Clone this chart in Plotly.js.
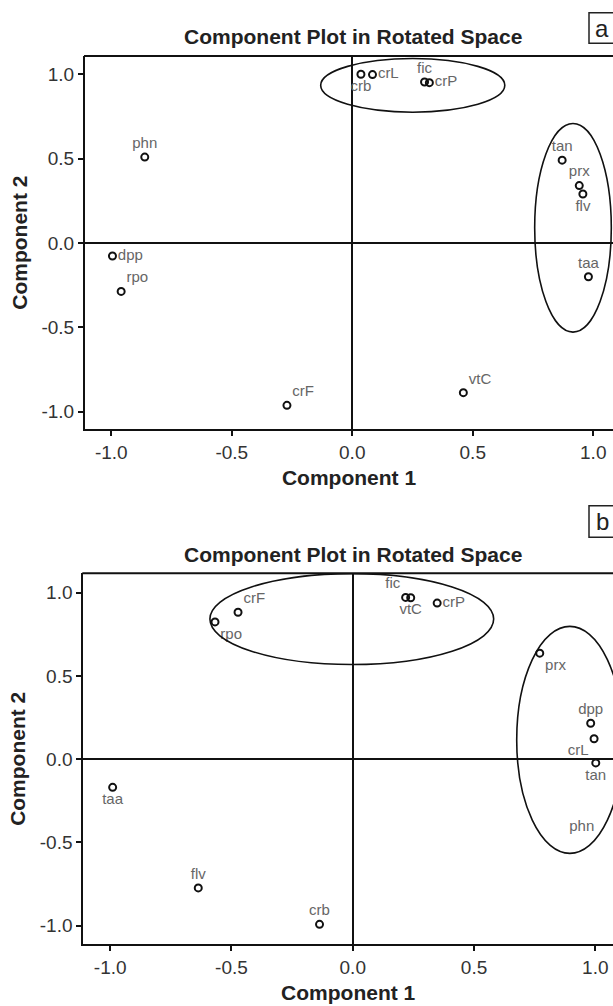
<!DOCTYPE html>
<html>
<head>
<meta charset="utf-8">
<script src="https://cdn.plot.ly/plotly-3.0.1.min.js"></script>
<style>
html,body{margin:0;padding:0;background:#fff;overflow:hidden;}
#chart{width:613px;height:1006px;}
</style>
</head>
<body>
<div id="chart"></div>
<script>
// ---------- data: panel a ----------
const labelsA = ["crb","crL","fic","crP","phn","tan","prx","flv","dpp","rpo","crF","vtC","taa"];
const comp1A  = [0.036,0.084,0.300,0.320,-0.861,0.871,0.942,0.957,-0.995,-0.959,-0.271,0.461,0.980];
const comp2A  = [1.000,0.998,0.954,0.950,0.509,0.491,0.340,0.290,-0.077,-0.287,-0.962,-0.887,-0.200];

// ---------- data: panel b ----------
const labelsB = ["rpo","crF","fic","vtC","crP","prx","dpp","crL","tan","taa","flv","crb"];
const comp1B  = [-0.568,-0.473,0.218,0.239,0.348,0.771,0.981,0.995,1.002,-0.990,-0.637,-0.137];
const comp2B  = [0.825,0.883,0.972,0.970,0.938,0.637,0.216,0.123,-0.022,-0.169,-0.773,-0.992];
// label shown without a visible marker in panel b
const textOnlyLabelsB = ["phn"];
const textOnlyComp1B  = [0.944];
const textOnlyComp2B  = [-0.41];

// ---------- grouping ellipses (centre x, centre y, half-width, half-height) ----------
const ellipseCxA = [0.251, 0.916];
const ellipseCyA = [0.934, 0.090];
const ellipseRxA = [0.382, 0.159];
const ellipseRyA = [0.159, 0.618];
const ellipseCxB = [-0.004, 0.895];
const ellipseCyB = [0.842, 0.116];
const ellipseRxB = [0.585, 0.219];
const ellipseRyB = [0.273, 0.682];

// ---------- ticks ----------
const tickVals = [-1.0,-0.5,0.0,0.5,1.0];
const tickText = ["-1.0","-0.5","0.0","0.5","1.0"];
const panelTitle = "Component Plot in Rotated Space";
const xTitle = "Component 1";
const yTitle = "Component 2";
const panelLetters = ["a","b"];

// ---------- styling (label placement) ----------
const posA = {crb:"bottom center",crL:"middle right",fic:"top center",crP:"middle right",phn:"top center",
  tan:"top center",prx:"top center",flv:"bottom center",dpp:"middle right",rpo:"top right",
  crF:"top right",vtC:"top right",taa:"top center"};
const posB = {rpo:"bottom right",crF:"top right",fic:"top left",vtC:"bottom center",crP:"middle right",
  prx:"bottom right",dpp:"top center",crL:"bottom left",tan:"bottom center",taa:"bottom center",
  flv:"top center",crb:"top center"};

const W = 613, H = 1006;
const pxX = v => v / W;
const pxY = v => 1 - v / H;

const markerStyle = {symbol:"circle-open", size:7, color:"#111", line:{width:2, color:"#111"}};
const labelFont = {family:"Liberation Sans, Arial, sans-serif", size:15, color:"#666"};

const traces = [
  {type:"scatter", mode:"markers+text", x:comp1A, y:comp2A, text:labelsA,
   textposition:labelsA.map(l=>posA[l]), textfont:labelFont, marker:markerStyle,
   xaxis:"x", yaxis:"y", hoverinfo:"text", showlegend:false},
  {type:"scatter", mode:"markers+text", x:comp1B, y:comp2B, text:labelsB,
   textposition:labelsB.map(l=>posB[l]), textfont:labelFont, marker:markerStyle,
   xaxis:"x2", yaxis:"y2", hoverinfo:"text", showlegend:false},
  {type:"scatter", mode:"text", x:textOnlyComp1B, y:textOnlyComp2B, text:textOnlyLabelsB,
   textfont:labelFont, xaxis:"x2", yaxis:"y2", hoverinfo:"text", showlegend:false}
];

const tickFont = {family:"Liberation Sans, Arial, sans-serif", size:19, color:"#333"};
const titleFont = {family:"Liberation Sans, Arial, sans-serif", size:21, color:"#222", weight:"bold"};

function axis(domain, range, anchor, titleText, standoff){
  return {
    domain:domain, range:range, anchor:anchor,
    tickmode:"array", tickvals:tickVals, ticktext:tickText,
    ticks:"outside", ticklen:5, tickwidth:2, tickcolor:"#111",
    showline:true, linecolor:"#111", linewidth:2, mirror:false,
    showgrid:false, zeroline:true, zerolinecolor:"#111", zerolinewidth:2,
    tickfont:tickFont, automargin:false,
    title:{text:titleText, font:titleFont, standoff:standoff}
  };
}

// plot-area geometry in pixels
const aL=85, aT=56, aB=429.3;
const bL=83.3, bT=573.3, bB=944.3;

const layout = {
  width:W, height:H, margin:{l:0,r:0,t:0,b:0}, paper_bgcolor:"#fff", plot_bgcolor:"#fff",
  font:{family:"Liberation Sans, Arial, sans-serif"},
  xaxis: axis([pxX(aL),1], [-1.109,1.082], "y", xTitle, 8),
  yaxis: axis([pxY(aB),pxY(aT)], [-1.104,1.108], "x", yTitle, 8),
  xaxis2: axis([pxX(bL),1], [-1.111,1.073], "y2", xTitle, 8),
  yaxis2: axis([pxY(bB),pxY(bT)], [-1.112,1.117], "x2", yTitle, 8),
  shapes:[], annotations:[]
};

function addEllipses(cx,cy,rx,ry,xr,yr){
  for(let i=0;i<cx.length;i++){
    layout.shapes.push({type:"circle", xref:xr, yref:yr,
      x0:cx[i]-rx[i], x1:cx[i]+rx[i], y0:cy[i]-ry[i], y1:cy[i]+ry[i],
      line:{color:"#111", width:1.6}, fillcolor:"rgba(0,0,0,0)"});
  }
}
addEllipses(ellipseCxA,ellipseCyA,ellipseRxA,ellipseRyA,"x","y");
addEllipses(ellipseCxB,ellipseCyB,ellipseRxB,ellipseRyB,"x2","y2");

// top frame lines
[[aL,aT],[bL,bT]].forEach(([l,t])=>{
  layout.shapes.push({type:"line", xref:"paper", yref:"paper", x0:pxX(l)-0.0016, x1:1.01, y0:pxY(t), y1:pxY(t),
    line:{color:"#111", width:2}});
});

// panel titles
[[352.5,37],[352.5,554]].forEach(([x,y])=>{
  layout.annotations.push({text:panelTitle, xref:"paper", yref:"paper", x:pxX(x), y:pxY(y),
    xanchor:"center", yanchor:"middle", showarrow:false, font:titleFont});
});

// panel letters with boxes
[[12.7,43.3],[505.7,537.3]].forEach(([t,b],i)=>{
  layout.shapes.push({type:"rect", xref:"paper", yref:"paper", x0:pxX(589), x1:1.05, y0:pxY(b), y1:pxY(t),
    line:{color:"#222", width:1.5}});
  layout.annotations.push({text:panelLetters[i], xref:"paper", yref:"paper", x:pxX(602), y:pxY((t+b)/2),
    xanchor:"center", yanchor:"middle", showarrow:false,
    font:{family:"Liberation Sans, Arial, sans-serif", size:24, color:"#222"}});
});

Plotly.newPlot("chart", traces, layout, {staticPlot:true, displayModeBar:false});
</script>
</body>
</html>
